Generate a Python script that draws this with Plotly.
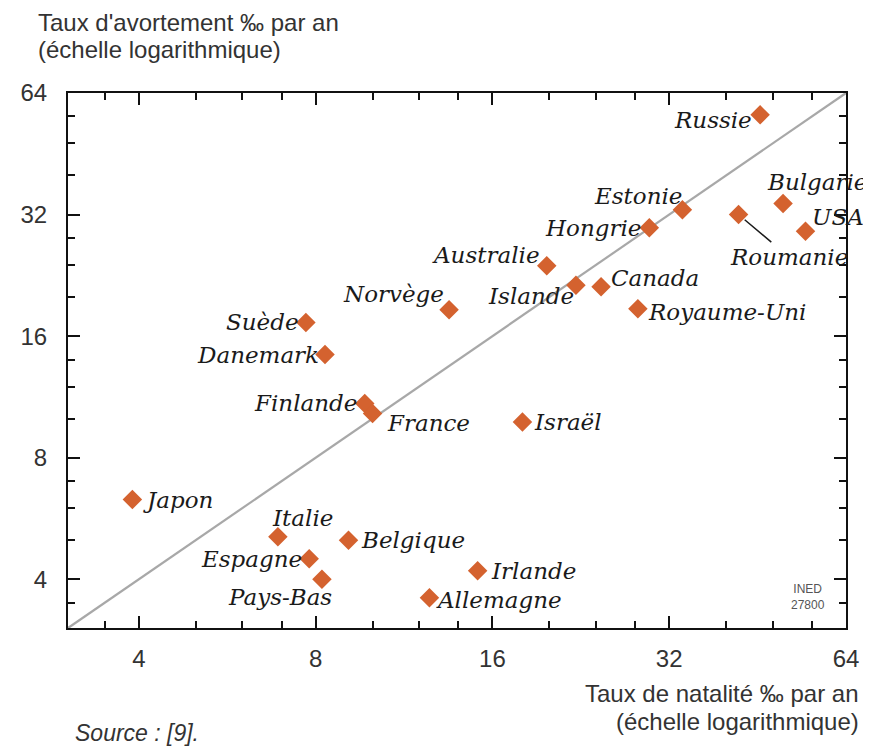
import numpy as np
import plotly.graph_objects as go

# ---- data ----
countries = ["Russie", "Estonie", "Hongrie", "Roumanie", "Bulgarie", "USA", "Canada",
             "Islande", "Royaume-Uni", "Australie", "Norvège", "Suède", "Danemark",
             "Finlande", "France", "Israël", "Japon", "Italie", "Espagne", "Pays-Bas",
             "Belgique", "Irlande", "Allemagne"]
natalite = [45.7, 33.7, 29.6, 42.0, 50.0, 54.6, 24.5, 22.2, 28.3, 19.8, 13.5, 7.7, 8.3,
            9.7, 10.0, 18.0, 3.9, 6.9, 7.8, 8.2, 9.1, 15.1, 12.5]
avortement = [56.5, 32.9, 29.7, 32.0, 34.1, 29.1, 21.2, 21.4, 18.7, 23.9, 18.6, 17.3, 14.4,
              10.9, 10.3, 9.8, 6.3, 5.1, 4.5, 4.0, 5.0, 4.2, 3.6]
major_ticks = [4, 8, 16, 32, 64]
minor_ticks = [3.5, 5, 6, 7, 10, 12, 14, 20, 24, 28, 40, 48, 56]
axis_min, axis_max = 3.03, 64

# ---- label placement (style only) ----
placement = {
    "Russie": ("right", -6, -5), "Estonie": ("right", 2, 14), "Hongrie": ("right", -6, 0),
    "Bulgarie": ("left", -18, 21), "USA": ("left", 5, 14), "Canada": ("left", 8, 9),
    "Islande": ("right", 0, -11), "Royaume-Uni": ("left", 8, -3), "Australie": ("right", -5, 11),
    "Norvège": ("right", -3, 16), "Suède": ("right", -5, 0), "Danemark": ("right", -4, 0),
    "Finlande": ("right", -6, 0), "France": ("left", 12, -10), "Israël": ("left", 10, 0),
    "Japon": ("left", 9, 0), "Italie": ("left", -8, 19), "Espagne": ("right", -5, 0),
    "Pays-Bas": ("right", 12, -18), "Belgique": ("left", 11, 0), "Irlande": ("left", 11, 0),
    "Allemagne": ("left", 5, -2),
}

label_font = dict(family="DejaVu Serif", size=23, color="#1a1a1a", style="italic")
sans = "Liberation Sans"
grey_text = "#333333"

fig = go.Figure()
fig.add_trace(go.Scatter(
    x=natalite, y=avortement, mode="markers", text=countries,
    marker=dict(symbol="diamond", size=15, color="#d4622f"),
    showlegend=False, hoverinfo="text+x+y"))

annotations = []
for name, xv, yv in zip(countries, natalite, avortement):
    if name == "Roumanie":
        annotations.append(dict(x=np.log10(xv), y=np.log10(yv), xref="x", yref="y",
                                text=name, font=label_font, showarrow=True, arrowhead=0,
                                arrowwidth=1.5, arrowcolor="#1a1a1a", ax=50, ay=42,
                                standoff=8))
        continue
    xa, xs, ys = placement[name]
    annotations.append(dict(x=np.log10(xv), y=np.log10(yv), xref="x", yref="y", text=name,
                            font=label_font, showarrow=False, xanchor=xa, yanchor="middle",
                            xshift=xs, yshift=ys))

title_font = dict(family=sans, size=24, color=grey_text)
annotations += [
    dict(xref="paper", yref="paper", x=-0.0407, y=1.0, yshift=71, xanchor="left", yanchor="middle",
         text="Taux d'avortement ‰ par an", showarrow=False, font=title_font),
    dict(xref="paper", yref="paper", x=-0.0407, y=1.0, yshift=44, xanchor="left", yanchor="middle",
         text="(échelle logarithmique)", showarrow=False, font=title_font),
    dict(xref="paper", yref="paper", x=1.019, y=0.0, yshift=-65, xanchor="right", yanchor="middle",
         text="Taux de natalité ‰ par an", showarrow=False, font=title_font),
    dict(xref="paper", yref="paper", x=1.019, y=0.0, yshift=-93, xanchor="right", yanchor="middle",
         text="(échelle logarithmique)", showarrow=False, font=title_font),
    dict(xref="paper", yref="paper", x=0.006, y=0.0, yshift=-105, xanchor="left", yanchor="middle",
         text="<i>Source : [9].</i>", showarrow=False, font=dict(family=sans, size=23, color=grey_text)),
    dict(xref="paper", yref="paper", x=0.976, y=0.0, yshift=31, xanchor="right", yanchor="middle",
         text="INED<br>27800", showarrow=False, align="center",
         font=dict(family=sans, size=12, color="#555555")),
]

fig.add_shape(type="line", xref="paper", yref="paper", x0=0, y0=0, x1=1, y1=1,
              line=dict(color="#a8a8a8", width=2.2), layer="below")

axis_common = dict(
    type="log", range=[np.log10(axis_min), np.log10(axis_max)],
    tickmode="array", tickvals=major_ticks, ticktext=[str(v) for v in major_ticks],
    ticks="inside", ticklen=12, tickwidth=2, tickcolor="#111111",
    minor=dict(tickmode="array", tickvals=minor_ticks, ticks="inside", ticklen=7,
               tickwidth=2, tickcolor="#111111", showgrid=False),
    showline=True, linecolor="#111111", linewidth=2, mirror="ticks",
    showgrid=False, zeroline=False,
    tickfont=dict(family=sans, size=24, color=grey_text),
)
fig.update_layout(
    width=863, height=740,
    margin=dict(l=52, r=24, t=85, b=120),
    paper_bgcolor="white", plot_bgcolor="white",
    xaxis=dict(**axis_common, ticklabelstandoff=8),
    yaxis=dict(**axis_common, ticklabelstandoff=14),
    annotations=annotations,
)

fig.write_html("out.html")
